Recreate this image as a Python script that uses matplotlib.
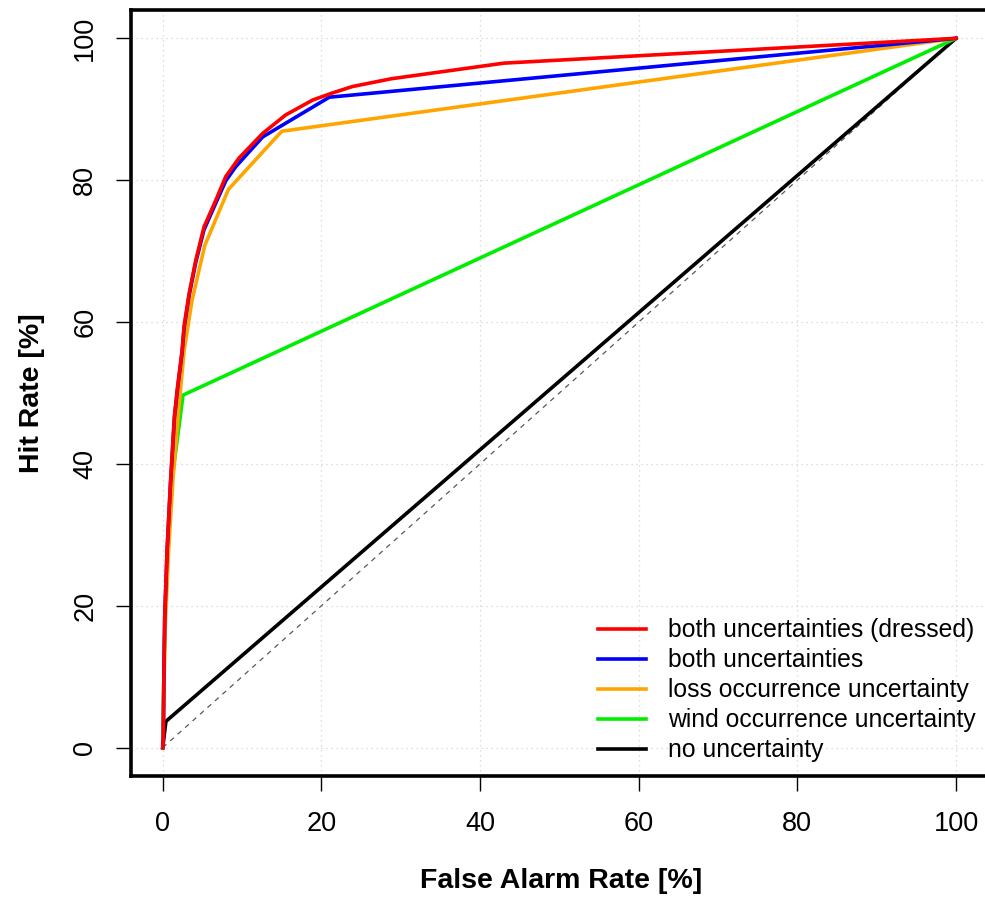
import numpy as np
import matplotlib.pyplot as plt

plt.rcParams['font.family'] = ['Liberation Sans', 'DejaVu Sans']

# ROC curves (false alarm rate, hit rate) in %
far_dressed = [0, 0.08, 0.13, 0.25, 0.55, 0.97, 1.47, 1.85, 2.44, 2.69, 3.32, 4.16, 5.2, 6.7,
               7.94, 9.6, 12.6, 15.5, 18.9, 21.4, 23.9, 28.8, 43.0, 100]
hr_dressed = [0, 1.6, 9.1, 18.5, 27.9, 37.3, 46.7, 50.7, 56.0, 59.4, 64.0, 68.7, 73.4, 77.2,
              80.5, 83.1, 86.6, 89.2, 91.3, 92.3, 93.2, 94.3, 96.5, 100]

far_both = [0, 0.08, 0.13, 0.25, 0.55, 0.97, 1.47, 1.85, 2.44, 2.69, 3.32, 4.16, 5.2, 6.7,
            7.94, 9.2, 12.6, 21.0, 100]
hr_both = [0, 1.5, 9.0, 18.3, 27.7, 37.0, 46.4, 50.4, 55.7, 59.1, 63.7, 68.4, 73.0, 76.8,
           79.9, 81.9, 86.1, 91.7, 100]

far_loss = [0, 0.15, 0.35, 0.75, 1.3, 2.0, 2.7, 3.7, 5.3, 8.28, 15.0, 100]
hr_loss = [0, 9.0, 18.0, 28.0, 38.0, 47.5, 56.0, 63.1, 70.8, 78.7, 86.9, 100]

far_wind = [0, 0.13, 0.3, 0.65, 1.2, 2.56, 100]
hr_wind = [0, 9.0, 18.5, 28.0, 38.0, 49.7, 100]

far_none = [0, 0.4, 100]
hr_none = [0, 3.7, 100]

labels = ["both uncertainties (dressed)", "both uncertainties",
          "loss occurrence uncertainty", "wind occurrence uncertainty",
          "no uncertainty"]
ticks = [0, 20, 40, 60, 80, 100]

fig = plt.figure(figsize=(9.85, 8.97), dpi=100)
ax = fig.add_axes([0.133, 0.1349, 0.873, 0.854])

ax.plot([0, 100], [0, 100], color="0.35", ls=(0, (4, 4)), lw=0.9, zorder=2)
ax.plot(far_none, hr_none, color="black", lw=2.6, label=labels[4], zorder=3)
ax.plot(far_wind, hr_wind, color="#00ee00", lw=2.6, label=labels[3], zorder=4)
ax.plot(far_loss, hr_loss, color="orange", lw=2.6, label=labels[2], zorder=5)
ax.plot(far_both, hr_both, color="blue", lw=2.6, label=labels[1], zorder=6)
ax.plot(far_dressed, hr_dressed, color="red", lw=2.6, label=labels[0], zorder=7)

ax.set_xlim(-4, 104.4)
ax.set_ylim(-4, 104)
ax.set_xticks(ticks)
ax.set_yticks(ticks)
ax.grid(True, color="lightgray", ls=(0, (1, 3)), lw=0.9)
for s in ax.spines.values():
    s.set_linewidth(2.6)
ax.spines["right"].set_visible(False)
ax.tick_params(length=10.5, width=1.0, labelsize=19.5)
ax.tick_params(axis="x", pad=15)
ax.tick_params(axis="y", pad=13)
plt.setp(ax.get_yticklabels(), rotation=90, va="center")

ax.set_xlabel("False Alarm Rate [%]", fontsize=20.5, fontweight="bold", labelpad=22)
ax.set_ylabel("Hit Rate [%]", fontsize=20.5, fontweight="bold", labelpad=20)

h, l = ax.get_legend_handles_labels()
ax.legend(h[::-1], l[::-1], loc="lower left", bbox_to_anchor=(0.543, 0.018),
          frameon=False, fontsize=17.8, handlelength=1.93, handletextpad=0.9,
          labelspacing=0.24, borderpad=0, borderaxespad=0)

fig.savefig("out.png", dpi=100)
